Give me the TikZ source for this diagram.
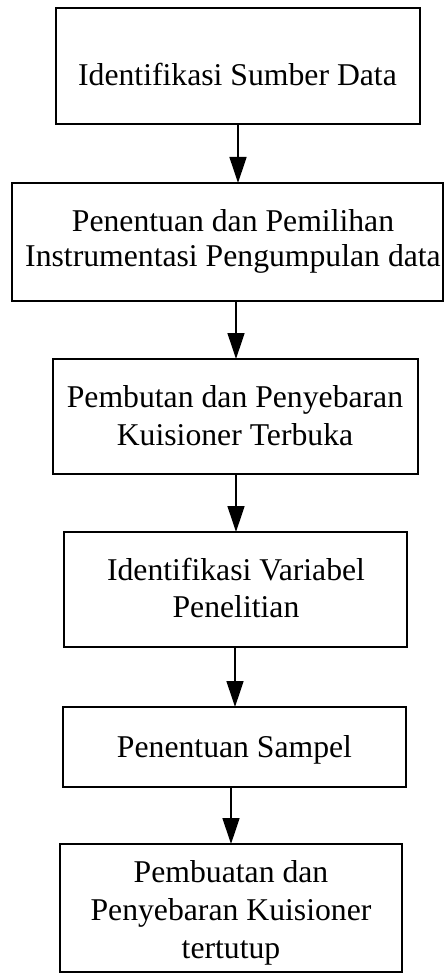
\documentclass[tikz,border=0pt]{standalone}
\usepackage{fontspec}
\setmainfont{Liberation Serif}
\usetikzlibrary{arrows.meta}
\tikzset{
  box/.style={draw, line width=1.5pt, inner sep=0pt, outer sep=0pt},
  lbl/.style={anchor=base, inner sep=0pt, outer sep=0pt, font=\fontsize{31.7}{38}\selectfont},
  arr/.style={line width=1.3pt, -{Triangle[length=26pt,width=17pt]}},
}
\begin{document}
\begin{tikzpicture}[x=1pt,y=-1pt]
\useasboundingbox (0,0) rectangle (444,973);
% boxes
\node[box, minimum width=364pt, minimum height=116pt] (b1) at (238,66) {};
\node[box, minimum width=431pt, minimum height=118pt] (b2) at (227.5,242) {};
\node[box, minimum width=365pt, minimum height=115pt] (b3) at (235.5,416.5) {};
\node[box, minimum width=343pt, minimum height=115pt] (b4) at (235.5,589.5) {};
\node[box, minimum width=343pt, minimum height=80pt] (b5) at (234.5,747) {};
\node[box, minimum width=342pt, minimum height=128pt] (b6) at (231,908) {};
% texts
\node[lbl] (t1) at (237.5,86) {Identifikasi Sumber Data};
\node[lbl] (t2a) at (233,232) {Penentuan dan Pemilihan};
\node[lbl] (t2b) at (233,267) {Instrumentasi Pengumpulan data};
\node[lbl] (t3a) at (235,407) {Pembutan dan Penyebaran};
\node[lbl] (t3b) at (235,445) {Kuisioner Terbuka};
\node[lbl] (t4a) at (236,580) {Identifikasi Variabel};
\node[lbl] (t4b) at (236,617) {Penelitian};
\node[lbl] (t5) at (234.5,757) {Penentuan Sampel};
\node[lbl] (t6a) at (231,882) {Pembuatan dan};
\node[lbl] (t6b) at (231,920) {Penyebaran Kuisioner};
\node[lbl] (t6c) at (231,958) {tertutup};
% arrows
\draw[arr] (b1.south) -- (b1.south |- b2.north);
\draw[arr] ([xshift=8.5pt]b2.south) -- ([xshift=8.5pt]b2.south |- b3.north);
\draw[arr] ([xshift=0.5pt]b3.south) -- ([xshift=0.5pt]b3.south |- b4.north);
\draw[arr] ([xshift=-0.5pt]b4.south) -- ([xshift=-0.5pt]b4.south |- b5.north);
\draw[arr] ([xshift=-3.5pt]b5.south) -- ([xshift=-3.5pt]b5.south |- b6.north);
\end{tikzpicture}
\end{document}
